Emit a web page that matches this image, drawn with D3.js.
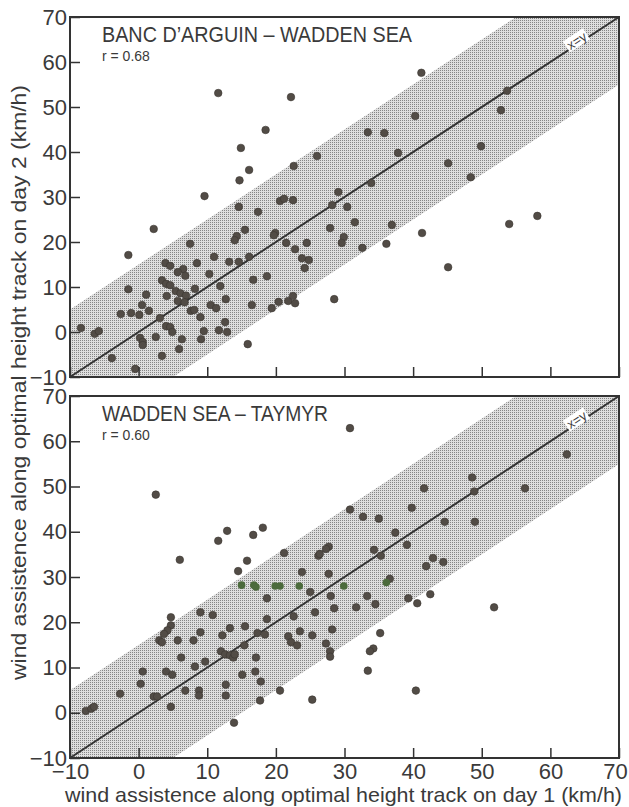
<!DOCTYPE html>
<html>
<head>
<meta charset="utf-8">
<script src="https://cdn.jsdelivr.net/npm/d3@7"></script>
<style>
  body { margin: 0; background: #fff; }
  text { font-family: "Liberation Sans", Arial, sans-serif; fill: #3a3a3a; }
</style>
</head>
<body>
<svg id="chart"></svg>
<script>
const width = 629;
const height = 807;

// ticks shared by both panels
const tickValues = [-10, 0, 10, 20, 30, 40, 50, 60, 70];
const bandHalf = 15; // shaded band around x = y

// panel 1: Banc d'Arguin - Wadden Sea  [day1, day2]
const bancX = [11.6, 22.2, 18.5, 14.9, 16.1, 14.7, 22.6, 26.0, 9.6, 41.2, 53.7, 52.8, 40.3, 33.4, 35.8, 49.9, 37.8, 45.1, 48.4, 33.9,
  29.1, 28.2, 30.4, 31.5, 36.9, 27.9, 41.3, 54.0, 58.1, 29.9, 29.6, 24.5, 36.1, 32.6, 23.8, 24.8, 24.2, 45.1, 28.5, 20.6,
  21.2, 22.5, 14.6, 17.4, 15.5, 14.3, 14.0, 19.9, 19.7, 7.5, 21.5, 22.8, 11.0, 16.1, 8.5, 13.2, 14.6, 6.5, 10.3, 16.7,
  18.7, 8.2, 11.9, 2.2, -1.5, 3.9, 4.6, 5.7, 6.8, 3.4, 4.0, 4.6, -1.5, 1.1, 4.1, 5.4, 6.1, 6.9, 5.7, 6.7,
  12.7, 10.5, 11.3, 19.4, 20.4, 21.8, 22.8, 22.5, -2.6, -1.1, 0.1, 1.5, 0.5, 7.6, 8.1, 9.0, 16.5, 3.1, 4.0, 4.6,
  4.9, 9.5, 9.1, 11.7, 12.9, 12.6, -8.4, -6.4, -5.8, 0.2, 0.6, 0.6, 2.5, 6.3, 5.9, 3.4, -3.9, -0.5, 15.9];
const bancY = [53.1, 52.2, 44.9, 40.9, 36.0, 33.7, 36.9, 39.1, 30.2, 57.6, 53.6, 49.3, 48.0, 44.4, 44.2, 41.3, 39.8, 37.5, 34.4, 33.1,
  31.1, 28.2, 27.8, 24.4, 23.8, 23.1, 22.0, 24.0, 25.8, 21.1, 19.8, 19.8, 19.6, 18.7, 16.4, 16.0, 14.2, 14.4, 7.3, 29.1,
  29.6, 29.3, 27.8, 26.7, 22.7, 21.3, 20.4, 22.0, 21.5, 19.6, 19.8, 18.4, 16.7, 16.7, 15.3, 15.6, 15.6, 14.0, 12.9, 11.6,
  12.4, 9.6, 10.2, 22.9, 17.1, 15.3, 14.7, 13.3, 12.5, 11.5, 10.7, 10.4, 9.5, 8.3, 8.0, 9.1, 8.6, 8.1, 6.9, 6.6,
  7.3, 6.0, 5.3, 5.3, 6.7, 6.9, 6.4, 8.0, 4.0, 4.2, 3.8, 4.7, 6.0, 4.7, 4.9, 3.3, 6.0, 3.1, 1.3, 1.1,
  0.0, 0.2, -1.6, 0.4, 0.0, 2.2, 0.9, -0.4, 0.2, -1.3, -2.2, -2.9, -1.1, -1.6, -3.8, -5.3, -5.8, -8.2, -2.7];

// panel 2: Wadden Sea - Taymyr  [day1, day2]
const taymyrX = [2.5, 6.0, 11.6, 12.9, 16.7, 18.1, 15.8, 14.5, 21.2, 23.8, 26.2, 30.8, 62.4, 48.6, 48.9, 56.3, 41.6, 39.8, 30.8, 32.7,
  35.0, 44.6, 49.0, 37.4, 39.1, 34.3, 35.3, 27.7, 27.3, 26.4, 42.9, 44.4, 41.9, 27.7, 36.6, 25.0, 28.0, 33.3, 34.5, 39.3,
  40.6, 42.5, 31.7, 28.5, 25.7, 18.7, 22.6, 9.0, 10.8, 18.7, 13.3, 15.5, 9.0, 8.0, 12.2, 17.3, 18.4, 23.5, 25.3, 28.2,
  21.8, 22.2, 23.1, 27.3, 27.9, 27.9, 35.2, 34.2, 33.7, 33.4, 17.1, 8.2, 9.7, 15.1, 17.0, 4.7, 4.7, 4.2, 3.7, 3.0,
  3.4, 5.7, 15.4, 6.2, 12.0, 12.6, 13.3, 13.8, 14.0, 0.6, 4.0, 4.9, 17.8, 0.3, 6.8, 8.8, 8.8, 12.7, 12.7, 20.6,
  -2.7, 2.2, 2.7, 17.7, 25.3, 4.7, -7.7, -6.9, -6.5, 13.9, 51.8, 40.4];
const taymyrY = [48.2, 33.8, 38.0, 40.2, 39.3, 40.9, 33.6, 31.3, 35.3, 31.1, 34.7, 62.9, 57.1, 52.0, 48.9, 49.6, 49.6, 45.3, 44.9, 43.3,
  42.9, 42.2, 42.2, 39.8, 37.1, 36.0, 34.7, 36.7, 36.2, 35.1, 34.2, 33.3, 32.4, 30.7, 29.6, 26.7, 25.8, 25.8, 24.0, 25.3,
  24.2, 26.2, 23.3, 23.1, 22.2, 25.3, 21.3, 22.2, 21.6, 20.7, 18.7, 19.1, 17.8, 16.0, 17.1, 17.6, 17.3, 18.0, 17.1, 18.4,
  16.9, 15.6, 14.9, 15.3, 13.6, 12.4, 17.6, 14.2, 13.6, 9.3, 12.2, 10.2, 11.3, 8.4, 9.1, 21.1, 19.3, 18.2, 17.4, 16.0,
  15.6, 16.0, 14.9, 12.2, 13.6, 12.9, 12.7, 12.2, 12.9, 9.1, 9.1, 8.4, 6.9, 6.4, 4.9, 4.9, 3.8, 6.2, 3.8, 4.9,
  4.2, 3.6, 3.6, 2.7, 2.9, 1.3, 0.4, 0.9, 1.3, -2.2, 23.3, 4.9];
// the greenish dots in the print
const taymyrGreenX = [15.0, 16.8, 17.1, 19.9, 20.6, 23.4, 29.9, 36.1];
const taymyrGreenY = [28.2, 28.2, 27.8, 28.0, 28.0, 28.0, 28.0, 28.8];

const svg = d3.select("#chart")
    .attr("width", width)
    .attr("height", height);

svg.append("rect").attr("width", width).attr("height", height).attr("fill", "#fff");

const defs = svg.append("defs");
const pat = defs.append("pattern")
    .attr("id", "stipple")
    .attr("width", 2)
    .attr("height", 2)
    .attr("patternUnits", "userSpaceOnUse");
pat.append("rect").attr("width", 2).attr("height", 2).attr("fill", "#dedede");
pat.append("rect").attr("width", 1).attr("height", 1).attr("fill", "#858585");

const x = d3.scaleLinear().domain([-10, 70]).range([70, 619]);

const panels = [
  { id: "p1", top: 17, bottom: 377, title: "BANC D\u2019ARGUIN \u2013 WADDEN SEA", titleLen: 310, r: "r = 0.68",
    xs: bancX, ys: bancY, gx: [], gy: [], xLabels: false },
  { id: "p2", top: 396, bottom: 758, title: "WADDEN SEA \u2013 TAYMYR", titleLen: 226, r: "r = 0.60",
    xs: taymyrX, ys: taymyrY, gx: taymyrGreenX, gy: taymyrGreenY, xLabels: true }
];

panels.forEach(p => {
  const y = d3.scaleLinear().domain([-10, 70]).range([p.bottom, p.top]);
  const g = svg.append("g");

  defs.append("clipPath").attr("id", "clip-" + p.id)
    .append("rect")
    .attr("x", x(-10)).attr("y", y(70))
    .attr("width", x(70) - x(-10)).attr("height", y(-10) - y(70));

  // shaded band |y - x| <= 15
  const band = [[-10, -10 + bandHalf], [70 - bandHalf, 70], [70, 70], [70, 70 - bandHalf], [-10 + bandHalf, -10], [-10, -10]];
  g.append("path")
    .attr("clip-path", `url(#clip-${p.id})`)
    .attr("d", d3.line().x(d => x(d[0])).y(d => y(d[1]))(band) + "Z")
    .attr("fill", "url(#stipple)");

  // x = y line
  g.append("line")
    .attr("x1", x(-10)).attr("y1", y(-10))
    .attr("x2", x(70)).attr("y2", y(70))
    .attr("stroke", "#333").attr("stroke-width", 2);

  const ang = Math.atan2(y(70) - y(-10), x(70) - x(-10)) * 180 / Math.PI;
  const lx = x(63.4) + 3, ly = y(63.4) - 6;
  const lab = g.append("g").attr("transform", `translate(${lx},${ly}) rotate(${ang})`);
  lab.append("rect").attr("x", -12).attr("y", -7).attr("width", 24).attr("height", 13).attr("fill", "#fff");
  lab.append("text").attr("text-anchor", "middle").attr("dy", "0.35em")
    .style("font-size", "13px").text("x=y");

  // points
  g.selectAll(".dot")
    .data(p.xs.map((v, i) => [v, p.ys[i]]))
    .enter().append("circle")
    .attr("cx", d => x(d[0])).attr("cy", d => y(d[1]))
    .attr("r", 3.8)
    .attr("fill", "#524c46")
    .attr("stroke", "#3a3530").attr("stroke-width", 0.6);

  g.selectAll(".gdot")
    .data(p.gx.map((v, i) => [v, p.gy[i]]))
    .enter().append("circle")
    .attr("cx", d => x(d[0])).attr("cy", d => y(d[1]))
    .attr("r", 3.8)
    .attr("fill", "#4c6b3c");

  // axes with inward ticks
  const yAxis = d3.axisLeft(y).tickValues(tickValues).tickSize(-10).tickPadding(3);
  const ya = g.append("g").attr("transform", `translate(${x(-10)},0)`).call(yAxis);
  ya.select(".domain").remove();
  ya.selectAll("line").attr("stroke", "#333").attr("stroke-width", 1.5);
  ya.selectAll("text").style("font-size", "22px").attr("fill", "#3a3a3a");

  const xAxis = d3.axisBottom(x).tickValues(tickValues).tickSize(-10).tickPadding(5);
  if (!p.xLabels) xAxis.tickFormat("");
  const xa = g.append("g").attr("transform", `translate(0,${y(-10)})`).call(xAxis);
  xa.select(".domain").remove();
  xa.selectAll("line").attr("stroke", "#333").attr("stroke-width", 1.5);
  xa.selectAll("text").style("font-size", "22px").attr("fill", "#3a3a3a")
    .attr("dx", d => d === 70 ? -4 : 0);

  // frame
  g.append("rect")
    .attr("x", x(-10)).attr("y", y(70))
    .attr("width", x(70) - x(-10)).attr("height", y(-10) - y(70))
    .attr("fill", "none").attr("stroke", "#333").attr("stroke-width", 2);

  // titles
  g.append("text")
    .attr("x", 102).attr("y", p.top + 25)
    .attr("textLength", p.titleLen).attr("lengthAdjust", "spacingAndGlyphs")
    .style("font-size", "22px").text(p.title);
  g.append("text")
    .attr("x", 102).attr("y", p.top + 44)
    .style("font-size", "14px").text(p.r);
});

svg.append("text")
  .attr("x", 65).attr("y", 802)
  .attr("textLength", 557).attr("lengthAdjust", "spacingAndGlyphs")
  .style("font-size", "21px")
  .text("wind assistence along optimal  height track on day 1 (km/h)");

svg.append("text")
  .attr("transform", "translate(26,680) rotate(-90)")
  .attr("textLength", 595).attr("lengthAdjust", "spacingAndGlyphs")
  .style("font-size", "21px")
  .text("wind assistence along optimal  height track on day 2 (km/h)");
</script>
</body>
</html>
